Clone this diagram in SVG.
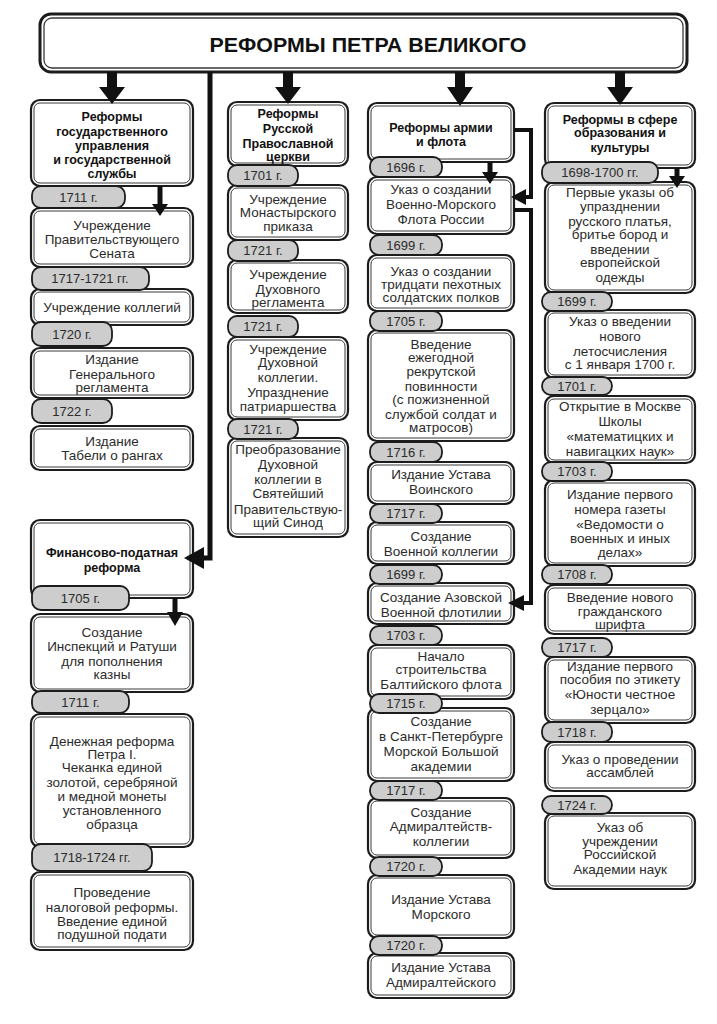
<svg xmlns="http://www.w3.org/2000/svg" width="717" height="1024" viewBox="0 0 717 1024">
<style>
.bo{fill:#fff;stroke:#1c1c1c;stroke-width:2.2}
.bi{fill:none;stroke:#3a3a3a;stroke-width:1}
.pl{fill:#cdcdcd;stroke:#1c1c1c;stroke-width:1.8}
text{font-family:"Liberation Sans",Arial,sans-serif;font-size:13.5px;fill:#2b2b2b;text-anchor:middle}
.h{font-weight:bold;font-size:12.5px;fill:#111}
.d{font-size:13px}
.ar{fill:#111}
.ln{stroke:#111;fill:none}
</style>
<rect width="717" height="1024" fill="#fff"/>
<g id="title">
<rect class="bo" x="40" y="14" width="647" height="58" rx="11" style="stroke-width:3"/>
<rect class="bi" x="44" y="18" width="639" height="50" rx="8" style="stroke-width:1.3"/>
<text x="368" y="52" style="font-weight:bold;font-size:21px;fill:#111" textLength="317" lengthAdjust="spacingAndGlyphs">РЕФОРМЫ ПЕТРА ВЕЛИКОГО</text>
</g>
<g id="col1">
<g id="c1-head"><rect class="bo" x="31" y="100" width="162" height="86" rx="9"/><rect class="bi" x="34" y="103" width="156" height="80" rx="6"/>
<text class="h" x="112" y="121">Реформы</text><text class="h" x="112" y="135.5">государственного</text><text class="h" x="112" y="150">управления</text><text class="h" x="112" y="164">и государственной</text><text class="h" x="112" y="178">службы</text></g>
<g id="c1-b1"><rect class="bo" x="31" y="208" width="162" height="59" rx="9"/><rect class="bi" x="34" y="211" width="156" height="53" rx="6"/>
<text x="112" y="230">Учреждение</text><text x="112" y="244">Правительствующего</text><text x="112" y="258">Сената</text></g>
<g id="c1-b2"><rect class="bo" x="31" y="289" width="162" height="36" rx="9"/><rect class="bi" x="34" y="292" width="156" height="30" rx="6"/>
<text x="112" y="312">Учреждение коллегий</text></g>
<g id="c1-b3"><rect class="bo" x="31" y="348" width="162" height="50" rx="9"/><rect class="bi" x="34" y="351" width="156" height="44" rx="6"/>
<text x="112" y="364">Издание</text><text x="112" y="379">Генерального</text><text x="112" y="392">регламента</text></g>
<g id="c1-b4"><rect class="bo" x="31" y="426" width="162" height="44" rx="9"/><rect class="bi" x="34" y="429" width="156" height="38" rx="6"/>
<text x="112" y="446">Издание</text><text x="112" y="460">Табели о рангах</text></g>
<g id="c1-d1"><rect class="pl" x="32" y="186" width="93" height="22" rx="9"/><text class="d" x="78.5" y="201.5">1711 г.</text></g>
<g id="c1-d2"><rect class="pl" x="32" y="267" width="117" height="23" rx="9"/><text class="d" x="90" y="283">1717-1721 гг.</text></g>
<g id="c1-d3"><rect class="pl" x="32" y="322" width="80" height="24" rx="9"/><text class="d" x="72" y="338.5">1720 г.</text></g>
<g id="c1-d4"><rect class="pl" x="32" y="399" width="80" height="24" rx="9"/><text class="d" x="72" y="415.5">1722 г.</text></g>
</g>
<g id="fin">
<g id="f-head"><rect class="bo" x="31" y="520" width="162" height="78" rx="9"/><rect class="bi" x="34" y="523" width="156" height="72" rx="6"/>
<text class="h" x="112" y="557">Финансово-податная</text><text class="h" x="112" y="572">реформа</text></g>
<g id="f-b1"><rect class="bo" x="31" y="614" width="162" height="78" rx="9"/><rect class="bi" x="34" y="617" width="156" height="72" rx="6"/>
<text x="112" y="637">Создание</text><text x="112" y="651">Инспекций и Ратуши</text><text x="112" y="666">для пополнения</text><text x="112" y="679">казны</text></g>
<g id="f-b2"><rect class="bo" x="31" y="714" width="162" height="133" rx="9"/><rect class="bi" x="34" y="717" width="156" height="127" rx="6"/>
<text x="112" y="746">Денежная реформа</text><text x="112" y="759">Петра I.</text><text x="112" y="772">Чеканка единой</text><text x="112" y="787">золотой, серебряной</text><text x="112" y="801">и медной монеты</text><text x="112" y="815">установленного</text><text x="112" y="829">образца</text></g>
<g id="f-b3"><rect class="bo" x="31" y="872" width="162" height="78" rx="9"/><rect class="bi" x="34" y="875" width="156" height="72" rx="6"/>
<text x="112" y="897">Проведение</text><text x="112" y="912">налоговой реформы.</text><text x="112" y="926">Введение единой</text><text x="112" y="939">подушной подати</text></g>
<g id="f-d1"><rect class="pl" x="32" y="586" width="97" height="24" rx="9"/><text class="d" x="80.5" y="602.5">1705 г.</text></g>
<g id="f-d2"><rect class="pl" x="32" y="691" width="97" height="22" rx="9"/><text class="d" x="80.5" y="706.5">1711 г.</text></g>
<g id="f-d3"><rect class="pl" x="32" y="844" width="120" height="27" rx="9"/><text class="d" x="92" y="862">1718-1724 гг.</text></g>
</g>
<g id="col2">
<g id="c2-head"><rect class="bo" x="228" y="102" width="120" height="64" rx="9"/><rect class="bi" x="231" y="105" width="114" height="58" rx="6"/>
<text class="h" x="288" y="117.5">Реформы</text><text class="h" x="288" y="133">Русской</text><text class="h" x="288" y="147.5">Православной</text><text class="h" x="288" y="161">церкви</text></g>
<g id="c2-b1"><rect class="bo" x="228" y="185" width="120" height="55" rx="9"/><rect class="bi" x="231" y="188" width="114" height="49" rx="6"/>
<text x="288" y="204">Учреждение</text><text x="288" y="217">Монастырского</text><text x="288" y="231">приказа</text></g>
<g id="c2-b2"><rect class="bo" x="228" y="260" width="120" height="53" rx="9"/><rect class="bi" x="231" y="263" width="114" height="47" rx="6"/>
<text x="288" y="279">Учреждение</text><text x="288" y="294">Духовного</text><text x="288" y="307">регламента</text></g>
<g id="c2-b3"><rect class="bo" x="228" y="337" width="120" height="83" rx="9"/><rect class="bi" x="231" y="340" width="114" height="77" rx="6"/>
<text x="288" y="354">Учреждение</text><text x="288" y="367">Духовной</text><text x="288" y="382">коллегии.</text><text x="288" y="397">Упразднение</text><text x="288" y="411">патриаршества</text></g>
<g id="c2-b4"><rect class="bo" x="228" y="438" width="120" height="99" rx="9"/><rect class="bi" x="231" y="441" width="114" height="93" rx="6"/>
<text x="288" y="454">Преобразование</text><text x="288" y="469">Духовной</text><text x="288" y="484">коллегии в</text><text x="288" y="498">Святейший</text><text x="288" y="514">Правительствую-</text><text x="288" y="527">щий Синод</text></g>
<g id="c2-d1"><rect class="pl" x="228" y="165" width="70" height="21" rx="9"/><text class="d" x="263" y="180">1701 г.</text></g>
<g id="c2-d2"><rect class="pl" x="228" y="240" width="70" height="21" rx="9"/><text class="d" x="263" y="255">1721 г.</text></g>
<g id="c2-d3"><rect class="pl" x="228" y="316" width="70" height="21" rx="9"/><text class="d" x="263" y="331">1721 г.</text></g>
<g id="c2-d4"><rect class="pl" x="228" y="419" width="70" height="20" rx="9"/><text class="d" x="263" y="433.5">1721 г.</text></g>
</g>
<g id="col3">
<g id="c3-head"><rect class="bo" x="368" y="103" width="146" height="59" rx="9"/><rect class="bi" x="371" y="106" width="140" height="53" rx="6"/>
<text class="h" x="441" y="132">Реформы армии</text><text class="h" x="441" y="146">и флота</text></g>
<g id="c3-b1"><rect class="bo" x="368" y="177" width="146" height="57" rx="9"/><rect class="bi" x="371" y="180" width="140" height="51" rx="6"/>
<text x="441" y="194">Указ о создании</text><text x="441" y="209">Военно-Морского</text><text x="441" y="224">Флота России</text></g>
<g id="c3-b2"><rect class="bo" x="368" y="255" width="146" height="56" rx="9"/><rect class="bi" x="371" y="258" width="140" height="50" rx="6"/>
<text x="441" y="276">Указ о создании</text><text x="441" y="289">тридцати пехотных</text><text x="441" y="302">солдатских полков</text></g>
<g id="c3-b3"><rect class="bo" x="368" y="330" width="146" height="111" rx="9"/><rect class="bi" x="371" y="333" width="140" height="105" rx="6"/>
<text x="441" y="349">Введение</text><text x="441" y="362">ежегодной</text><text x="441" y="376">рекрутской</text><text x="441" y="391">повинности</text><text x="441" y="404">(с пожизненной</text><text x="441" y="419">службой солдат и</text><text x="441" y="432">матросов)</text></g>
<g id="c3-b4"><rect class="bo" x="368" y="462" width="146" height="42" rx="9"/><rect class="bi" x="371" y="465" width="140" height="36" rx="6"/>
<text x="441" y="479">Издание Устава</text><text x="441" y="494">Воинского</text></g>
<g id="c3-b5"><rect class="bo" x="368" y="522" width="146" height="42" rx="9"/><rect class="bi" x="371" y="525" width="140" height="36" rx="6"/>
<text x="441" y="541">Создание</text><text x="441" y="556">Военной коллегии</text></g>
<g id="c3-b6"><rect class="bo" x="368" y="583" width="146" height="41" rx="9"/><rect class="bi" x="371" y="586" width="140" height="35" rx="6"/>
<text x="441" y="602">Создание Азовской</text><text x="441" y="617">Военной флотилии</text></g>
<g id="c3-b7"><rect class="bo" x="368" y="645" width="146" height="54" rx="9"/><rect class="bi" x="371" y="648" width="140" height="48" rx="6"/>
<text x="441" y="661">Начало</text><text x="441" y="674">строительства</text><text x="441" y="689">Балтийского флота</text></g>
<g id="c3-b8"><rect class="bo" x="368" y="708" width="146" height="73" rx="9"/><rect class="bi" x="371" y="711" width="140" height="67" rx="6"/>
<text x="441" y="726">Создание</text><text x="441" y="741">в Санкт-Петербурге</text><text x="441" y="756">Морской Большой</text><text x="441" y="771">академии</text></g>
<g id="c3-b9"><rect class="bo" x="368" y="798" width="146" height="60" rx="9"/><rect class="bi" x="371" y="801" width="140" height="54" rx="6"/>
<text x="441" y="817">Создание</text><text x="441" y="831">Адмиралтейств-</text><text x="441" y="846">коллегии</text></g>
<g id="c3-b10"><rect class="bo" x="368" y="875" width="146" height="63" rx="9"/><rect class="bi" x="371" y="878" width="140" height="57" rx="6"/>
<text x="441" y="904">Издание Устава</text><text x="441" y="919">Морского</text></g>
<g id="c3-b11"><rect class="bo" x="368" y="953" width="146" height="45" rx="9"/><rect class="bi" x="371" y="956" width="140" height="39" rx="6"/>
<text x="441" y="972">Издание Устава</text><text x="441" y="987">Адмиралтейского</text></g>
<g id="c3-d1"><rect class="pl" x="370" y="157" width="72" height="20" rx="9"/><text class="d" x="406" y="171.5">1696 г.</text></g>
<g id="c3-d2"><rect class="pl" x="370" y="235" width="72" height="20" rx="9"/><text class="d" x="406" y="249.5">1699 г.</text></g>
<g id="c3-d3"><rect class="pl" x="370" y="311" width="72" height="20" rx="9"/><text class="d" x="406" y="325.5">1705 г.</text></g>
<g id="c3-d4"><rect class="pl" x="370" y="442" width="72" height="20" rx="9"/><text class="d" x="406" y="456.5">1716 г.</text></g>
<g id="c3-d5"><rect class="pl" x="370" y="504" width="72" height="19" rx="9"/><text class="d" x="406" y="518">1717 г.</text></g>
<g id="c3-d6"><rect class="pl" x="370" y="565" width="72" height="19" rx="9"/><text class="d" x="406" y="579">1699 г.</text></g>
<g id="c3-d7"><rect class="pl" x="370" y="626" width="72" height="19" rx="9"/><text class="d" x="406" y="640">1703 г.</text></g>
<g id="c3-d8"><rect class="pl" x="370" y="694" width="72" height="19" rx="9"/><text class="d" x="406" y="708">1715 г.</text></g>
<g id="c3-d9"><rect class="pl" x="370" y="781" width="72" height="19" rx="9"/><text class="d" x="406" y="795">1717 г.</text></g>
<g id="c3-d10"><rect class="pl" x="370" y="857" width="72" height="19" rx="9"/><text class="d" x="406" y="871">1720 г.</text></g>
<g id="c3-d11"><rect class="pl" x="370" y="936" width="72" height="19" rx="9"/><text class="d" x="406" y="950">1720 г.</text></g>
</g>
<g id="col4">
<g id="c4-head"><rect class="bo" x="545" y="103" width="150" height="65" rx="9"/><rect class="bi" x="548" y="106" width="144" height="59" rx="6"/>
<text class="h" x="620" y="124">Реформы в сфере</text><text class="h" x="620" y="137">образования и</text><text class="h" x="620" y="152">культуры</text></g>
<g id="c4-b1"><rect class="bo" x="545" y="182" width="150" height="111" rx="9"/><rect class="bi" x="548" y="185" width="144" height="105" rx="6"/>
<text x="620" y="197">Первые указы об</text><text x="620" y="211">упразднении</text><text x="620" y="226">русского платья,</text><text x="620" y="239">бритье бород и</text><text x="620" y="254">введении</text><text x="620" y="267">европейской</text><text x="620" y="282">одежды</text></g>
<g id="c4-b2"><rect class="bo" x="545" y="310" width="150" height="68" rx="9"/><rect class="bi" x="548" y="313" width="144" height="62" rx="6"/>
<text x="620" y="326">Указ о введении</text><text x="620" y="341">нового</text><text x="620" y="356">летосчисления</text><text x="620" y="369">с 1 января 1700 г.</text></g>
<g id="c4-b3"><rect class="bo" x="545" y="396" width="150" height="67" rx="9"/><rect class="bi" x="548" y="399" width="144" height="61" rx="6"/>
<text x="620" y="411">Открытие в Москве</text><text x="620" y="426">Школы</text><text x="620" y="441">«математицких и</text><text x="620" y="456">навигацких наук»</text></g>
<g id="c4-b4"><rect class="bo" x="545" y="480" width="150" height="86" rx="9"/><rect class="bi" x="548" y="483" width="144" height="80" rx="6"/>
<text x="620" y="499">Издание первого</text><text x="620" y="514">номера газеты</text><text x="620" y="529">«Ведомости о</text><text x="620" y="543">военных и иных</text><text x="620" y="557">делах»</text></g>
<g id="c4-b5"><rect class="bo" x="545" y="585" width="150" height="49" rx="9"/><rect class="bi" x="548" y="588" width="144" height="43" rx="6"/>
<text x="620" y="602">Введение нового</text><text x="620" y="616">гражданского</text><text x="620" y="629">шрифта</text></g>
<g id="c4-b6"><rect class="bo" x="545" y="657" width="150" height="66" rx="9"/><rect class="bi" x="548" y="660" width="144" height="60" rx="6"/>
<text x="620" y="671">Издание первого</text><text x="620" y="684">пособия по этикету</text><text x="620" y="699">«Юности честное</text><text x="620" y="714">зерцало»</text></g>
<g id="c4-b7"><rect class="bo" x="545" y="742" width="150" height="49" rx="9"/><rect class="bi" x="548" y="745" width="144" height="43" rx="6"/>
<text x="620" y="764">Указ о проведении</text><text x="620" y="777">ассамблей</text></g>
<g id="c4-b8"><rect class="bo" x="545" y="813" width="150" height="76" rx="9"/><rect class="bi" x="548" y="816" width="144" height="70" rx="6"/>
<text x="620" y="832">Указ об</text><text x="620" y="846">учреждении</text><text x="620" y="859">Российской</text><text x="620" y="874">Академии наук</text></g>
<g id="c4-d1"><rect class="pl" x="542" y="162" width="116" height="21" rx="9"/><text class="d" x="600" y="177">1698-1700 гг.</text></g>
<g id="c4-d2"><rect class="pl" x="542" y="292" width="70" height="19" rx="9"/><text class="d" x="577" y="306">1699 г.</text></g>
<g id="c4-d3"><rect class="pl" x="542" y="377" width="70" height="18" rx="9"/><text class="d" x="577" y="390.5">1701 г.</text></g>
<g id="c4-d4"><rect class="pl" x="542" y="462" width="70" height="19" rx="9"/><text class="d" x="577" y="476">1703 г.</text></g>
<g id="c4-d5"><rect class="pl" x="542" y="565" width="70" height="19" rx="9"/><text class="d" x="577" y="579">1708 г.</text></g>
<g id="c4-d6"><rect class="pl" x="542" y="638" width="70" height="19" rx="9"/><text class="d" x="577" y="652">1717 г.</text></g>
<g id="c4-d7"><rect class="pl" x="542" y="722" width="70" height="20" rx="9"/><text class="d" x="577" y="736.5">1718 г.</text></g>
<g id="c4-d8"><rect class="pl" x="542" y="796" width="70" height="18" rx="9"/><text class="d" x="577" y="809.5">1724 г.</text></g>
</g>
<g id="connectors">
<polygon class="ar" points="107,72 117,72 117,87 125,87 112,104 99,87 107,87"/>
<polygon class="ar" points="283,72 293,72 293,87 301,87 288,104 275,87 283,87"/>
<polygon class="ar" points="455,72 465,72 465,87 473,87 460,106 447,87 455,87"/>
<polygon class="ar" points="615,72 625,72 625,87 633,87 620,105 607,87 615,87"/>
<path class="ln" d="M210,72 V558 H202" style="stroke-width:5"/>
<polygon class="ar" points="184,558 204,547 204,569"/>
<polygon class="ar" points="157.5,186 162.5,186 162.5,204 168,204 160,216 152,204 157.5,204"/>
<polygon class="ar" points="172.5,598 177.5,598 177.5,612 183,612 175,626 167,612 172.5,612"/>
<polygon class="ar" points="487.5,162 492.5,162 492.5,172 498,172 490,184 482,172 487.5,172"/>
<polygon class="ar" points="674.5,168 679.5,168 679.5,176 685,176 677,188 669,176 674.5,176"/>
<path class="ln" d="M514,130 H531 V197 H524" style="stroke-width:4"/>
<polygon class="ar" points="511,197 526,189 526,205"/>
<path class="ln" d="M514,210 H531 V603 H522" style="stroke-width:4"/>
<polygon class="ar" points="508,603 524,595 524,611"/>
</g>
</svg>
